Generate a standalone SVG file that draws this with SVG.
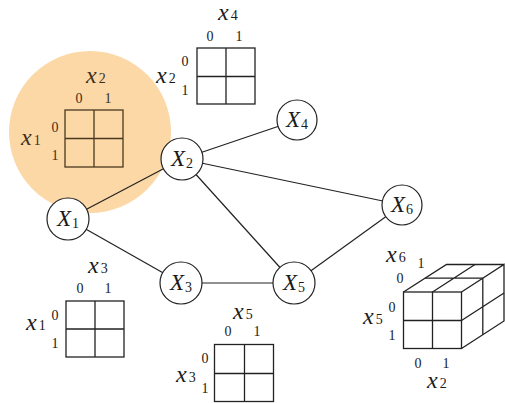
<svg xmlns="http://www.w3.org/2000/svg" width="505" height="403" viewBox="0 0 505 403">
<style>
text{fill:#1a1a1a}
.g{fill:none;stroke:#222;stroke-width:1.3}
.o text{fill:#3d2f1c}
.o .g{stroke:#4a3920}
.e line{stroke:#222;stroke-width:1.2}
.n circle{fill:#fff;stroke:#222;stroke-width:1.2}
</style>
<circle cx="90" cy="132" r="81" fill="#fbd8a6"/>
<g font-family="Liberation Serif, serif">
<g id="table-x1x2" class="o">
<rect class="g" x="65" y="110" width="58" height="57"/>
<path class="g" d="M94 110V167M65 138.5H123"/>
<text x="86" y="83" font-style="italic" font-size="24">x<tspan font-style="normal" font-size="14" dx="2">2</tspan></text>
<text x="79" y="103" font-size="14" text-anchor="middle">0</text><text x="108" y="103" font-size="14" text-anchor="middle">1</text>
<text x="21" y="145" font-style="italic" font-size="24">x<tspan font-style="normal" font-size="14" dx="2">1</tspan></text>
<text x="55" y="132" font-size="14" text-anchor="middle">0</text><text x="55" y="160" font-size="14" text-anchor="middle">1</text>
</g>
<g id="table-x2x4">
<rect class="g" x="197" y="48" width="58" height="56"/>
<path class="g" d="M226 48V104M197 76.5H255"/>
<text x="218" y="20" font-style="italic" font-size="24">x<tspan font-style="normal" font-size="14" dx="2">4</tspan></text>
<text x="210" y="41" font-size="14" text-anchor="middle">0</text><text x="239" y="41" font-size="14" text-anchor="middle">1</text>
<text x="156" y="83" font-style="italic" font-size="24">x<tspan font-style="normal" font-size="14" dx="2">2</tspan></text>
<text x="185" y="66" font-size="14" text-anchor="middle">0</text><text x="185" y="95" font-size="14" text-anchor="middle">1</text>
</g>
<g id="table-x1x3">
<rect class="g" x="66" y="301" width="58" height="56"/>
<path class="g" d="M95 301V357M66 329H124"/>
<text x="88" y="273" font-style="italic" font-size="24">x<tspan font-style="normal" font-size="14" dx="2">3</tspan></text>
<text x="80" y="293" font-size="14" text-anchor="middle">0</text><text x="108" y="293" font-size="14" text-anchor="middle">1</text>
<text x="26" y="330" font-style="italic" font-size="24">x<tspan font-style="normal" font-size="14" dx="2">1</tspan></text>
<text x="55" y="320" font-size="14" text-anchor="middle">0</text><text x="55" y="348" font-size="14" text-anchor="middle">1</text>
</g>
<g id="table-x3x5">
<rect class="g" x="214.5" y="344.5" width="59" height="57"/>
<path class="g" d="M244.5 344.5V401.5M214.5 373.5H273.5"/>
<text x="233" y="319" font-style="italic" font-size="24">x<tspan font-style="normal" font-size="14" dx="2">5</tspan></text>
<text x="228" y="336" font-size="14" text-anchor="middle">0</text><text x="257" y="336" font-size="14" text-anchor="middle">1</text>
<text x="176" y="382" font-style="italic" font-size="24">x<tspan font-style="normal" font-size="14" dx="2">3</tspan></text>
<text x="205" y="363" font-size="14" text-anchor="middle">0</text><text x="205" y="393" font-size="14" text-anchor="middle">1</text>
</g>
<g id="cube-x2x5x6">
<rect class="g" x="403.5" y="292" width="58" height="56.5"/>
<path class="g" d="M432.5 292V348.5M403.5 320.5H461.5"/>
<path class="g" d="M403.5 292L446.5 264.5H504M461.5 292L504 264.5V321L461.5 348.5"/>
<path class="g" d="M432.5 292L475 264.5M425 278.2H482.8M482.8 278.2V334.7M461.5 320.5L504 293"/>
<text x="386" y="262" font-style="italic" font-size="24">x<tspan font-style="normal" font-size="14" dx="2">6</tspan></text>
<text x="421" y="268" font-size="14" text-anchor="middle">1</text>
<text x="400" y="283" font-size="14" text-anchor="middle">0</text>
<text x="363" y="324" font-style="italic" font-size="24">x<tspan font-style="normal" font-size="14" dx="2">5</tspan></text>
<text x="392" y="312" font-size="14" text-anchor="middle">0</text><text x="392" y="340" font-size="14" text-anchor="middle">1</text>
<text x="418" y="368" font-size="14" text-anchor="middle">0</text><text x="446" y="368" font-size="14" text-anchor="middle">1</text>
<text x="427" y="388" font-style="italic" font-size="24">x<tspan font-style="normal" font-size="14" dx="2">2</tspan></text>
</g>
<g id="edges" class="e">
<line x1="68" y1="219" x2="182" y2="159"/>
<line x1="68" y1="219" x2="181" y2="283"/>
<line x1="182" y1="159" x2="297" y2="120"/>
<line x1="182" y1="159" x2="402" y2="205"/>
<line x1="182" y1="159" x2="294" y2="283"/>
<line x1="181" y1="283" x2="294" y2="283"/>
<line x1="294" y1="283" x2="402" y2="205"/>
</g>
<g id="X1" class="n"><circle cx="68" cy="219" r="21"/><text x="68" y="226" font-style="italic" font-size="23" text-anchor="middle">X<tspan font-style="normal" font-size="14" dx="1" dy="2">1</tspan></text></g>
<g id="X2" class="n"><circle cx="182" cy="159" r="21"/><text x="182" y="166" font-style="italic" font-size="23" text-anchor="middle">X<tspan font-style="normal" font-size="14" dx="1" dy="2">2</tspan></text></g>
<g id="X3" class="n"><circle cx="181" cy="283" r="21"/><text x="181" y="290" font-style="italic" font-size="23" text-anchor="middle">X<tspan font-style="normal" font-size="14" dx="1" dy="2">3</tspan></text></g>
<g id="X4" class="n"><circle cx="297" cy="120" r="20"/><text x="297" y="127" font-style="italic" font-size="23" text-anchor="middle">X<tspan font-style="normal" font-size="14" dx="1" dy="2">4</tspan></text></g>
<g id="X5" class="n"><circle cx="294" cy="283" r="21"/><text x="294" y="290" font-style="italic" font-size="23" text-anchor="middle">X<tspan font-style="normal" font-size="14" dx="1" dy="2">5</tspan></text></g>
<g id="X6" class="n"><circle cx="402" cy="205" r="20"/><text x="402" y="212" font-style="italic" font-size="23" text-anchor="middle">X<tspan font-style="normal" font-size="14" dx="1" dy="2">6</tspan></text></g>
</g>
</svg>
